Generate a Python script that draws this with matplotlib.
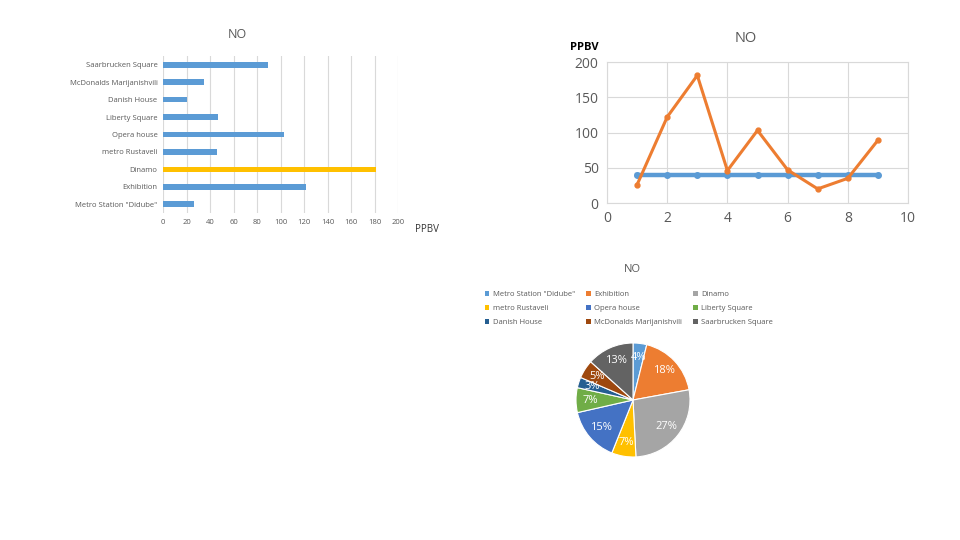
import matplotlib
matplotlib.use("Agg")
import matplotlib.pyplot as plt
from matplotlib.patches import Patch

plt.rcParams['font.family'] = ['Open Sans', 'DejaVu Sans']

sites = ['Metro Station "Didube"', 'Exhibition', 'Dinamo', 'metro Rustaveli',
         'Opera house', 'Liberty Square', 'Danish House',
         'McDonalds Marijanishvili', 'Saarbrucken Square']
no_values = [26, 122, 181, 46, 103, 47, 20, 35, 89]
limit_value = 40
site_index = [1, 2, 3, 4, 5, 6, 7, 8, 9]
bar_ticks = [0, 20, 40, 60, 80, 100, 120, 140, 160, 180, 200]
line_xticks = [0, 2, 4, 6, 8, 10]
line_yticks = [0, 50, 100, 150, 200]

W, H = 960, 540
fig = plt.figure(figsize=(9.6, 5.4), dpi=100)
fig.patch.set_facecolor('white')

def ax_px(x0, y0, x1, y1):
    return fig.add_axes([x0 / W, 1 - y1 / H, (x1 - x0) / W, (y1 - y0) / H])

grey = '#595959'
grid = '#D9D9D9'

# ---------------- Bar chart ----------------
ax1 = ax_px(163, 56, 398, 213)
bar_colors = ['#FFC000' if s == 'Dinamo' else '#5B9BD5' for s in sites]
ax1.barh(range(len(sites)), no_values, height=0.32, color=bar_colors, zorder=3)
ax1.set_yticks(range(len(sites)))
ax1.set_yticklabels(sites, fontsize=5.5, color=grey)
ax1.set_xlim(0, 200)
ax1.set_ylim(-0.5, len(sites) - 0.5)
ax1.set_xticks(bar_ticks)
ax1.set_xticklabels([str(t) for t in bar_ticks], fontsize=5.5, color=grey)
ax1.xaxis.grid(True, color=grid, linewidth=0.8, zorder=0)
for sp in ax1.spines.values():
    sp.set_visible(False)
ax1.tick_params(length=0, pad=4)
fig.text(237 / W, 1 - 35 / H, 'NO', fontsize=9, color=grey, ha='center', va='center')
fig.text(427 / W, 1 - 229 / H, 'PPBV', fontsize=7, color='#333333', ha='center', va='center')

# ---------------- Line chart ----------------
ax2 = ax_px(607, 62, 908, 203)
ax2.plot(site_index, [limit_value] * len(site_index), color='#5B9BD5', lw=3.2,
         marker='o', ms=4, zorder=3)
ax2.plot(site_index, no_values, color='#ED7D31', lw=2.2, marker='o', ms=3.5, zorder=4)
ax2.set_xlim(0, 10)
ax2.set_ylim(0, 200)
ax2.set_xticks(line_xticks)
ax2.set_yticks(line_yticks)
ax2.tick_params(labelsize=10, colors=grey, length=0, pad=6)
ax2.grid(True, color=grid, linewidth=0.8, zorder=0)
for sp in ax2.spines.values():
    sp.set_color(grid)
    sp.set_linewidth(0.8)
fig.text(746 / W, 1 - 38 / H, 'NO', fontsize=10.5, color=grey, ha='center', va='center')
fig.text(584 / W, 1 - 47 / H, 'PPBV', fontsize=8, color='black', fontweight='bold',
         ha='center', va='center')

# ---------------- Pie chart ----------------
pie_colors = ['#5B9BD5', '#ED7D31', '#A5A5A5', '#FFC000', '#4472C4',
              '#70AD47', '#255E91', '#9E480E', '#636363']
ax3 = ax_px(576, 343, 690, 457)
wedges, texts, autotexts = ax3.pie(
    no_values, colors=pie_colors, startangle=90, counterclock=False,
    autopct='%1.0f%%', pctdistance=0.75,
    wedgeprops=dict(edgecolor='white', linewidth=0.8),
    textprops=dict(color='white', fontsize=8))
ax3.set_xlim(-1, 1)
ax3.set_ylim(-1, 1)
ax3.set_aspect('equal')
fig.text(632 / W, 1 - 269 / H, 'NO', fontsize=8, color=grey, ha='center', va='center')

order = [0, 3, 6, 1, 4, 7, 2, 5, 8]
handles = [Patch(facecolor=pie_colors[i], edgecolor='none') for i in order]
labels = [sites[i] for i in order]
fig.legend(handles, labels, ncol=3, loc='upper left',
           bbox_to_anchor=(478 / W, 1 - 284 / H), frameon=False,
           fontsize=5.5, labelcolor=grey, handlelength=0.6, handleheight=0.6,
           handletextpad=0.4, columnspacing=1.5, labelspacing=0.9)

fig.savefig('out.png', dpi=100)
